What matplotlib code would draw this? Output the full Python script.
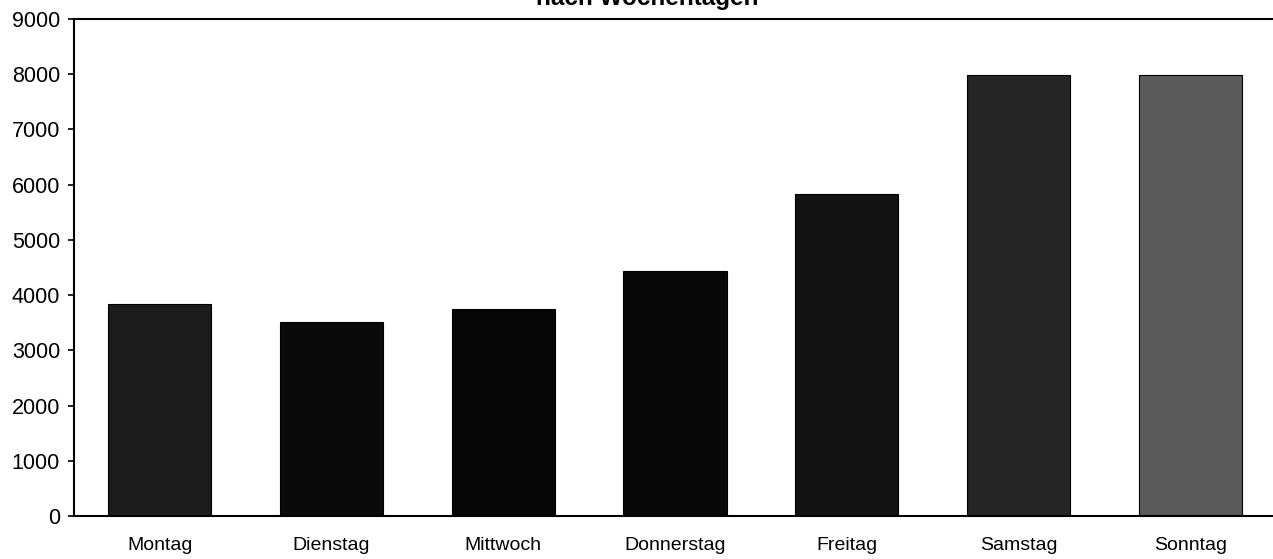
import matplotlib
matplotlib.use("Agg")
import matplotlib.pyplot as plt

# Weekday totals
days = ["Montag", "Dienstag", "Mittwoch", "Donnerstag", "Freitag", "Samstag", "Sonntag"]
values = [3840, 3520, 3750, 4430, 5830, 7990, 7990]
bar_colors = ["#1c1c1c", "#0a0a0a", "#060606", "#080808", "#121212", "#262626", "#5a5a5a"]
yticks = [0, 1000, 2000, 3000, 4000, 5000, 6000, 7000, 8000, 9000]

W, H = 1273, 559
fig = plt.figure(figsize=(W / 100, H / 100), dpi=100)
fig.patch.set_facecolor("white")

ax = fig.add_axes([74 / W, (H - 516) / H, 1202 / W, 497 / H])
x = list(range(len(days)))
ax.bar(x, values, width=0.6, color=bar_colors, edgecolor="black", linewidth=0.8)

ax.set_xlim(-0.5, len(days) - 0.5)
ax.set_ylim(0, 9000)
ax.set_yticks(yticks)
ax.set_yticklabels([str(t) for t in yticks], fontsize=15.5, family="Liberation Sans")
ax.set_xticks(x)
ax.set_xticklabels(days, fontsize=14, family="Liberation Sans")
ax.tick_params(axis="y", direction="out", length=4, width=1.2, pad=6)
ax.tick_params(axis="x", length=0, pad=15)

for side in ("left", "top", "bottom", "right"):
    ax.spines[side].set_linewidth(1.5)
    ax.spines[side].set_color("black")

fig.text(647 / W, 1 - 4.5 / H, "nach Wochentagen", ha="center", va="baseline",
         fontsize=17.5, fontweight="bold", family="Liberation Sans")

fig.savefig("out.png", dpi=100, facecolor="white")
